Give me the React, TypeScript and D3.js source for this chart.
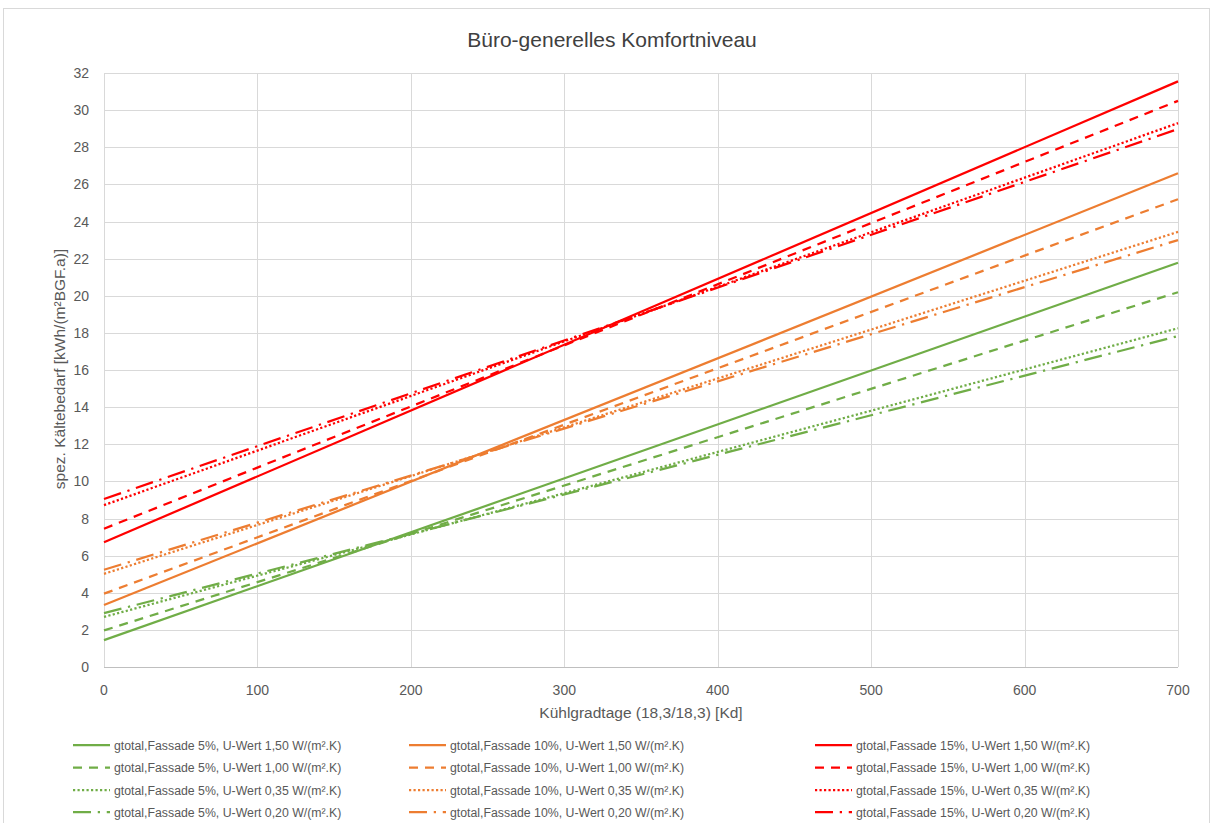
import React from "react";
import * as d3 from "d3";

const title = "Büro-generelles Komfortniveau";
const xTitle = "Kühlgradtage (18,3/18,3) [Kd]";
const yTitle = "spez. Kältebedarf [kWh/(m²BGF.a)]";

const xValues = [0, 700];
const xTicks = [0, 100, 200, 300, 400, 500, 600, 700];
const yTicks = [0, 2, 4, 6, 8, 10, 12, 14, 16, 18, 20, 22, 24, 26, 28, 30, 32];

const facades = ["5%", "10%", "15%"];
const uValues = ["1,50", "1,00", "0,35", "0,20"];

// values at x = 0 and x = 700
const green150 = [1.45, 21.78];
const green100 = [1.97, 20.19];
const green035 = [2.7, 18.25];
const green020 = [2.9, 17.83];
const orange150 = [3.34, 26.6];
const orange100 = [3.95, 25.2];
const orange035 = [5.02, 23.44];
const orange020 = [5.24, 23.0];
const red150 = [6.72, 31.55];
const red100 = [7.45, 30.5];
const red035 = [8.72, 29.3];
const red020 = [9.05, 28.98];

const colors = ["#70ad47", "#ed7d31", "#ff0000"];
const dashes = ["", "9,7", "2.2,2.3", "18,6.75,2.25,6.75"];

const seriesByFacade = [
  [green150, green100, green035, green020],
  [orange150, orange100, orange035, orange020],
  [red150, red100, red035, red020],
];

const W = 1212;
const H = 823;
const font = "'Liberation Sans', Arial, sans-serif";

export default function App() {
  const x = d3.scaleLinear().domain([0, 700]).range([104, 1178]);
  const y = d3.scaleLinear().domain([0, 32]).range([667, 73]);
  const line = d3
    .line<[number, number]>()
    .x((d) => x(d[0]))
    .y((d) => y(d[1]));

  const legendCols = [73, 409, 815];
  const legendRows = [745, 767.5, 790, 812];

  return (
    <div style={{ position: "absolute", left: 0, top: 0 }}>
      <svg width={W} height={H} style={{ display: "block", background: "#fff" }}>
        <rect x={3.5} y={8.5} width={1206} height={830} fill="#fff" stroke="#d9d9d9" strokeWidth={1} />
        <text x={612} y={47} textAnchor="middle" fontFamily={font} fontSize={21} fill="#404040">
          {title}
        </text>
        {/* grid */}
        {yTicks.map((t) => (
          <line key={"gy" + t} x1={x(0)} x2={x(700)} y1={Math.round(y(t)) + 0.5} y2={Math.round(y(t)) + 0.5} stroke="#d9d9d9" strokeWidth={1} />
        ))}
        {xTicks.map((t) => (
          <line key={"gx" + t} x1={Math.round(x(t)) + 0.5} x2={Math.round(x(t)) + 0.5} y1={y(32)} y2={y(0)} stroke="#d9d9d9" strokeWidth={1} />
        ))}
        <line x1={x(0)} x2={x(700)} y1={Math.round(y(0)) + 0.5} y2={Math.round(y(0)) + 0.5} stroke="#bfbfbf" strokeWidth={1} />
        {/* tick labels */}
        {yTicks.map((t) => (
          <text key={"ty" + t} x={89} y={y(t) + 5} textAnchor="end" fontFamily={font} fontSize={14} fill="#595959">
            {t}
          </text>
        ))}
        {xTicks.map((t) => (
          <text key={"tx" + t} x={x(t)} y={695} textAnchor="middle" fontFamily={font} fontSize={14} fill="#595959">
            {t}
          </text>
        ))}
        <text x={641} y={718} textAnchor="middle" fontFamily={font} fontSize={15.5} fill="#595959">
          {xTitle}
        </text>
        <text
          transform={`translate(65,${369}) rotate(-90)`}
          textAnchor="middle"
          fontFamily={font}
          fontSize={15.5}
          fill="#595959"
        >
          {yTitle}
        </text>
        {/* series */}
        {seriesByFacade.map((group, fi) =>
          group.map((vals, ui) => (
            <path
              key={`s${fi}-${ui}`}
              d={line(xValues.map((xv, i) => [xv, vals[i]]) as [number, number][]) || ""}
              fill="none"
              stroke={colors[fi]}
              strokeWidth={2.25}
              strokeDasharray={dashes[ui] || undefined}
            />
          ))
        )}
        {/* legend */}
        {facades.map((f, fi) =>
          uValues.map((u, ui) => (
            <g key={`l${fi}-${ui}`}>
              <line
                x1={legendCols[fi]}
                x2={legendCols[fi] + 37}
                y1={legendRows[ui]}
                y2={legendRows[ui]}
                stroke={colors[fi]}
                strokeWidth={2.25}
                strokeDasharray={dashes[ui] || undefined}
              />
              <text
                x={legendCols[fi] + 41}
                y={legendRows[ui] + 4.5}
                fontFamily={font}
                fontSize={12.3}
                fill="#595959"
              >
                {`gtotal,Fassade ${f}, U-Wert ${u} W/(m².K)`}
              </text>
            </g>
          ))
        )}
      </svg>
    </div>
  );
}
